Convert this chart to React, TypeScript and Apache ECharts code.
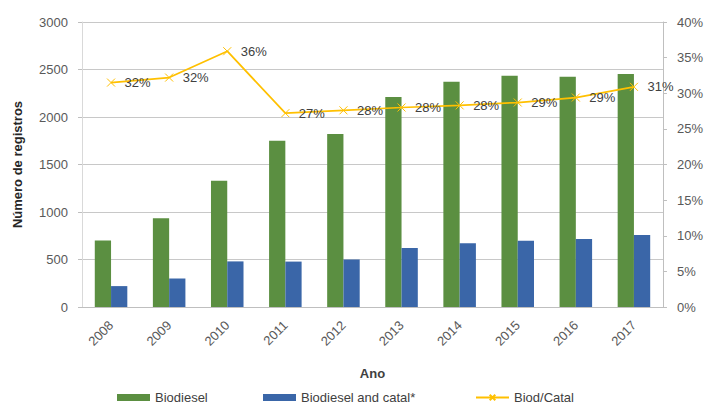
import React, { useEffect, useRef } from "react";
import * as echarts from "echarts";

const years = ["2008", "2009", "2010", "2011", "2012", "2013", "2014", "2015", "2016", "2017"];
const biodiesel = [700, 935, 1330, 1750, 1820, 2210, 2370, 2435, 2425, 2453];
const biodieselCatal = [220, 300, 480, 478, 500, 620, 670, 698, 716, 758];
const ratio = [31.5, 32.2, 35.9, 27.2, 27.6, 28.0, 28.3, 28.7, 29.4, 30.9];
const seriesNames = ["Biodiesel", "Biodiesel and catal*", "Biod/Catal"];
const leftTicks = { min: 0, max: 3000, interval: 500 };
const rightTicks = { min: 0, max: 40, interval: 5 };

const FONT = "'Liberation Sans', 'DejaVu Sans', sans-serif";

export default function App() {
  const ref = useRef<HTMLDivElement>(null);
  useEffect(() => {
    if (!ref.current) return;
    const chart = echarts.init(ref.current, null, { renderer: "svg" });
    const legendLefts = [112, 258, 470];
    const legendBase = {
      top: 386,
      padding: 5,
      itemWidth: 33,
      itemHeight: 7,
      textStyle: { fontSize: 13, color: "#404040", fontFamily: FONT },
    };
    chart.setOption({
      animation: false,
      backgroundColor: "#ffffff",
      textStyle: { fontFamily: FONT },
      grid: { left: 82, right: 42, top: 22, bottom: 98 },
      legend: seriesNames.map((n, i) => ({
        ...legendBase,
        left: legendLefts[i],
        data: [i < 2 ? { name: n, icon: "rect" } : { name: n }],
      })),
      xAxis: {
        type: "category",
        data: years,
        name: "Ano",
        nameLocation: "middle",
        nameGap: 60,
        nameTextStyle: { fontSize: 13, fontWeight: "bold", color: "#404040" },
        axisLine: { lineStyle: { color: "#BFBFBF" } },
        axisTick: { show: false },
        axisLabel: { rotate: 45, fontSize: 13, color: "#595959", margin: 16 },
      },
      yAxis: [
        {
          type: "value",
          ...leftTicks,
          name: "Número de registros",
          nameLocation: "middle",
          nameGap: 58,
          nameTextStyle: { fontSize: 13, fontWeight: "bold", color: "#262626" },
          axisLine: { show: true, lineStyle: { color: "#D9D9D9" } },
          axisTick: { show: true, length: 4, lineStyle: { color: "#BFBFBF" } },
          splitLine: { lineStyle: { color: "#C8C8C8" } },
          axisLabel: {
            fontSize: 13,
            color: "#595959",
            margin: 14,
            formatter: (v: number) => String(v),
          },
        },
        {
          type: "value",
          ...rightTicks,
          position: "right",
          axisLine: { show: true, lineStyle: { color: "#BFBFBF" } },
          axisTick: { show: true, length: 4, lineStyle: { color: "#BFBFBF" } },
          splitLine: { show: false },
          axisLabel: { fontSize: 13, color: "#595959", margin: 14, formatter: "{value}%" },
        },
      ],
      series: [
        {
          name: seriesNames[0],
          type: "bar",
          data: biodiesel,
          barWidth: "28%",
          barGap: "0%",
          itemStyle: { color: "#5B8F41" },
        },
        {
          name: seriesNames[1],
          type: "bar",
          data: biodieselCatal,
          barWidth: "28%",
          barGap: "0%",
          itemStyle: { color: "#3A66A8" },
        },
        {
          name: seriesNames[2],
          type: "line",
          yAxisIndex: 1,
          data: ratio,
          symbol: "path://M0,0L10,10M10,0L0,10",
          symbolSize: 8,
          lineStyle: { color: "#FFC000", width: 1.75 },
          itemStyle: { color: "#FFC000", borderColor: "#FFC000", borderWidth: 1 },
          label: {
            show: true,
            position: "right",
            distance: 9,
            fontSize: 13,
            color: "#404040",
            formatter: (p: any) => Math.round(p.value) + "%",
          },
          z: 5,
        },
      ],
    });
    return () => chart.dispose();
  }, []);
  return (
    <div
      ref={ref}
      style={{ position: "absolute", left: 0, top: 0, width: 706, height: 405 }}
    />
  );
}
